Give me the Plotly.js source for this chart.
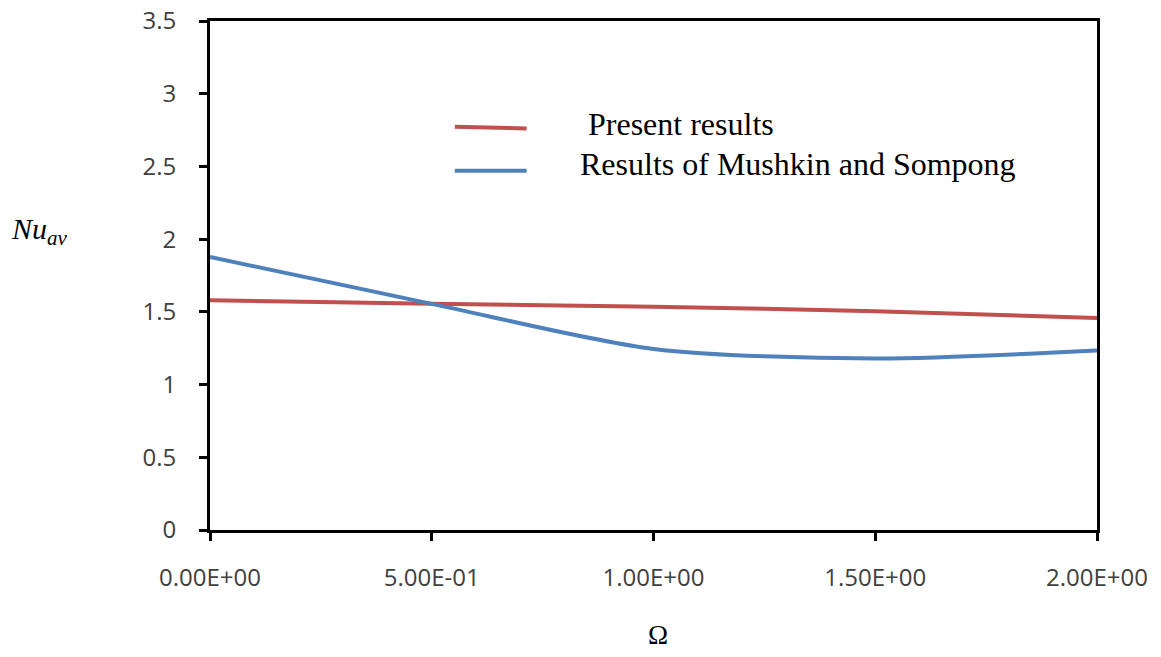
<!DOCTYPE html>
<html><head><meta charset="utf-8">
<script src="https://cdn.plot.ly/plotly-3.0.1.min.js"></script>
<style>html,body{margin:0;padding:0;background:#fff}#chart{width:1161px;height:657px}</style>
</head><body><div id="chart"></div>
<script>
const omega = [0, 0.5, 1.0, 1.5, 2.0];
const presentResults = [1.58, 1.555, 1.535, 1.505, 1.458];
const mushkinSompong = [1.877, 1.555, 1.245, 1.18, 1.235];
const xTickVals = [0, 0.5, 1.0, 1.5, 2.0];
const xTickText = ["0.00E+00", "5.00E-01", "1.00E+00", "1.50E+00", "2.00E+00"];
const yTickVals = [0, 0.5, 1, 1.5, 2, 2.5, 3, 3.5];
const yTickText = ["0", "0.5", "1", "1.5", "2", "2.5", "3", "3.5"];
const seriesNames = ["Present results", "Results of Mushkin and Sompong"];
const seriesColors = ["#C0504D", "#4F81BD"];

const traces = [
  {x: omega, y: presentResults, name: seriesNames[0], mode: "lines",
   line: {color: seriesColors[0], width: 4, shape: "spline", smoothing: 0.8}, showlegend: false},
  {x: omega, y: mushkinSompong, name: seriesNames[1], mode: "lines",
   line: {color: seriesColors[1], width: 4, shape: "spline", smoothing: 0.8}, showlegend: false}
];

const tickFont = {family: "Open Sans", size: 24, color: "#404040"};
const serif = "Liberation Serif";

const layout = {
  width: 1161, height: 657,
  font: {family: "Open Sans", size: 24, color: "#404040"},
  margin: {l: 210, r: 64, t: 21, b: 127},
  paper_bgcolor: "#fff", plot_bgcolor: "#fff",
  xaxis: {range: [0, 2], tickmode: "array", tickvals: xTickVals, ticktext: xTickText, showgrid: false, zeroline: false,
    showline: true, linecolor: "#000", linewidth: 3, mirror: true, ticks: "outside", ticklen: 8,
    tickwidth: 3, tickcolor: "#000", tickfont: tickFont, automargin: false, ticklabelstandoff: 16},
  yaxis: {range: [0, 3.5], tickmode: "array", tickvals: yTickVals, ticktext: yTickText, showgrid: false, zeroline: false,
    showline: true, linecolor: "#000", linewidth: 3, mirror: true, ticks: "outside", ticklen: 8,
    tickwidth: 3, tickcolor: "#000", tickfont: tickFont, automargin: false, ticklabelstandoff: 18},
  showlegend: false,
  shapes: [
    {type: "line", xref: "paper", yref: "paper", x0: 0.276, x1: 0.357, y0: 0.792, y1: 0.789,
     line: {color: seriesColors[0], width: 4}},
    {type: "line", xref: "paper", yref: "paper", x0: 0.276, x1: 0.357, y0: 0.706, y1: 0.706,
     line: {color: seriesColors[1], width: 4}}
  ],
  annotations: [
    {xref: "paper", yref: "paper", x: 0.424, y: 0.797, xanchor: "left", yanchor: "middle",
     text: seriesNames[0], showarrow: false, font: {family: serif, size: 32, color: "#000"}},
    {xref: "paper", yref: "paper", x: 0.415, y: 0.72, xanchor: "left", yanchor: "middle",
     text: seriesNames[1], showarrow: false, font: {family: serif, size: 32, color: "#000"}},
    {xref: "paper", yref: "paper", x: -0.227, y: 0.588, xanchor: "left", yanchor: "middle",
     text: "<i>Nu</i><sub><i>av</i></sub>", showarrow: false, font: {family: serif, size: 30, color: "#000"}},
    {xref: "paper", yref: "paper", x: 0.505, y: -0.206, xanchor: "center", yanchor: "middle",
     text: "Ω", showarrow: false, font: {family: serif, size: 27, color: "#000"}}
  ]
};
Plotly.newPlot("chart", traces, layout, {displayModeBar: false, staticPlot: true});
</script></body></html>
